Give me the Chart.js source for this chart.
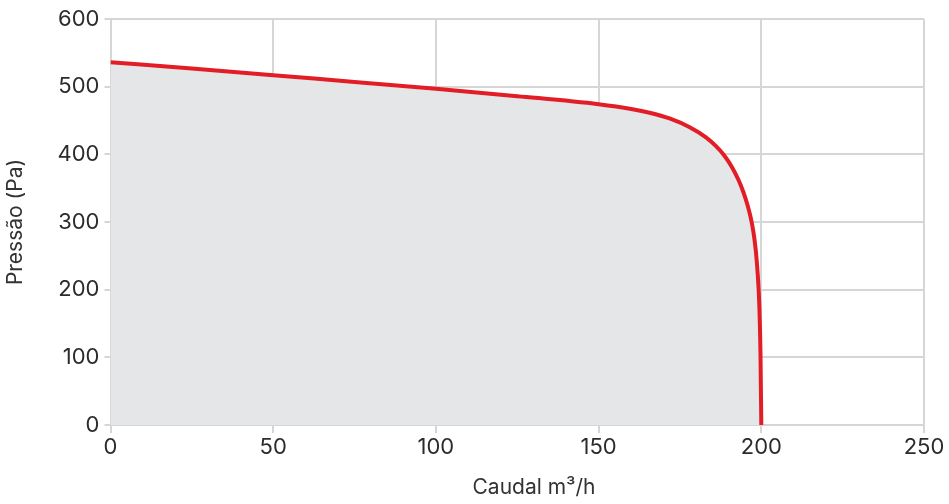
<!DOCTYPE html>
<html>
<head>
<meta charset="utf-8">
<script src="https://cdn.jsdelivr.net/npm/chart.js@4/dist/chart.umd.min.js"></script>
<style>
html,body{margin:0;padding:0;background:#fff;}
#wrap{width:949px;height:504px;position:relative;}
</style>
</head>
<body>
<div id="wrap"><canvas id="c" width="949" height="504"></canvas></div>
<script>
const flowValues = [0, 25, 50, 75, 100, 125, 150, 160, 166, 172, 178, 183, 186, 188.5, 191, 193, 194.5, 195.8, 196.8, 197.6, 198.3, 198.9, 199.4, 199.75, 200];
const pressureValues = [536, 527, 517, 507, 497, 486, 474, 467, 461, 452.6, 440, 425, 412.4, 399, 381, 362, 344, 324.4, 305.4, 284.6, 258, 223, 176, 106, 0];
const xTicks = [0, 50, 100, 150, 200, 250];
const yTicks = [0, 100, 200, 300, 400, 500, 600];
const xTitle = 'Caudal m³/h';
const yTitle = 'Pressão (Pa)';

const FONT = "Inter, 'Open Sans', sans-serif";
const points = flowValues.map((x, i) => ({x: x, y: pressureValues[i]}));

const xTitlePlugin = {
  id: 'xTitlePlugin',
  afterDraw(chart) {
    const ctx = chart.ctx;
    ctx.save();
    ctx.font = "21px " + FONT;
    ctx.fillStyle = '#333333';
    ctx.textAlign = 'center';
    ctx.textBaseline = 'middle';
    ctx.fillText(xTitle, 534, 488);
    ctx.restore();
  }
};

new Chart(document.getElementById('c'), {
  type: 'line',
  data: {
    datasets: [{
      data: points,
      borderColor: '#e31d26',
      borderWidth: 4,
      backgroundColor: '#e5e6e8',
      fill: 'origin',
      pointRadius: 0,
      cubicInterpolationMode: 'monotone'
    }]
  },
  options: {
    responsive: false,
    animation: false,
    layout: {padding: {top: 19, right: 25, left: 0, bottom: 0}},
    plugins: {legend: {display: false}, tooltip: {enabled: false}},
    scales: {
      x: {
        type: 'linear',
        min: 0, max: 250,
        afterBuildTicks(scale) { scale.ticks = xTicks.map(v => ({value: v})); },
        afterFit(scale) { scale.height = 79; },
        grid: {color: '#d6d6d6', lineWidth: 2, tickLength: 8, drawOnChartArea: true},
        border: {color: '#d6d6d6', width: 2},
        ticks: {font: {size: 22, family: FONT}, color: '#2b2b2b', padding: 1, maxRotation: 0},
        title: {display: false}
      },
      y: {
        type: 'linear',
        min: 0, max: 600,
        afterBuildTicks(scale) { scale.ticks = yTicks.map(v => ({value: v})); },
        afterFit(scale) { scale.width = 110.5; },
        grid: {color: '#d6d6d6', lineWidth: 2, tickLength: 6},
        border: {color: '#d6d6d6', width: 2},
        ticks: {font: {size: 22, family: FONT}, color: '#2b2b2b', padding: 5},
        title: {display: true, text: yTitle, font: {size: 21, family: FONT}, color: '#333333', padding: {top: 3, bottom: 0}}
      }
    }
  },
  plugins: [xTitlePlugin]
});
</script>
</body>
</html>
